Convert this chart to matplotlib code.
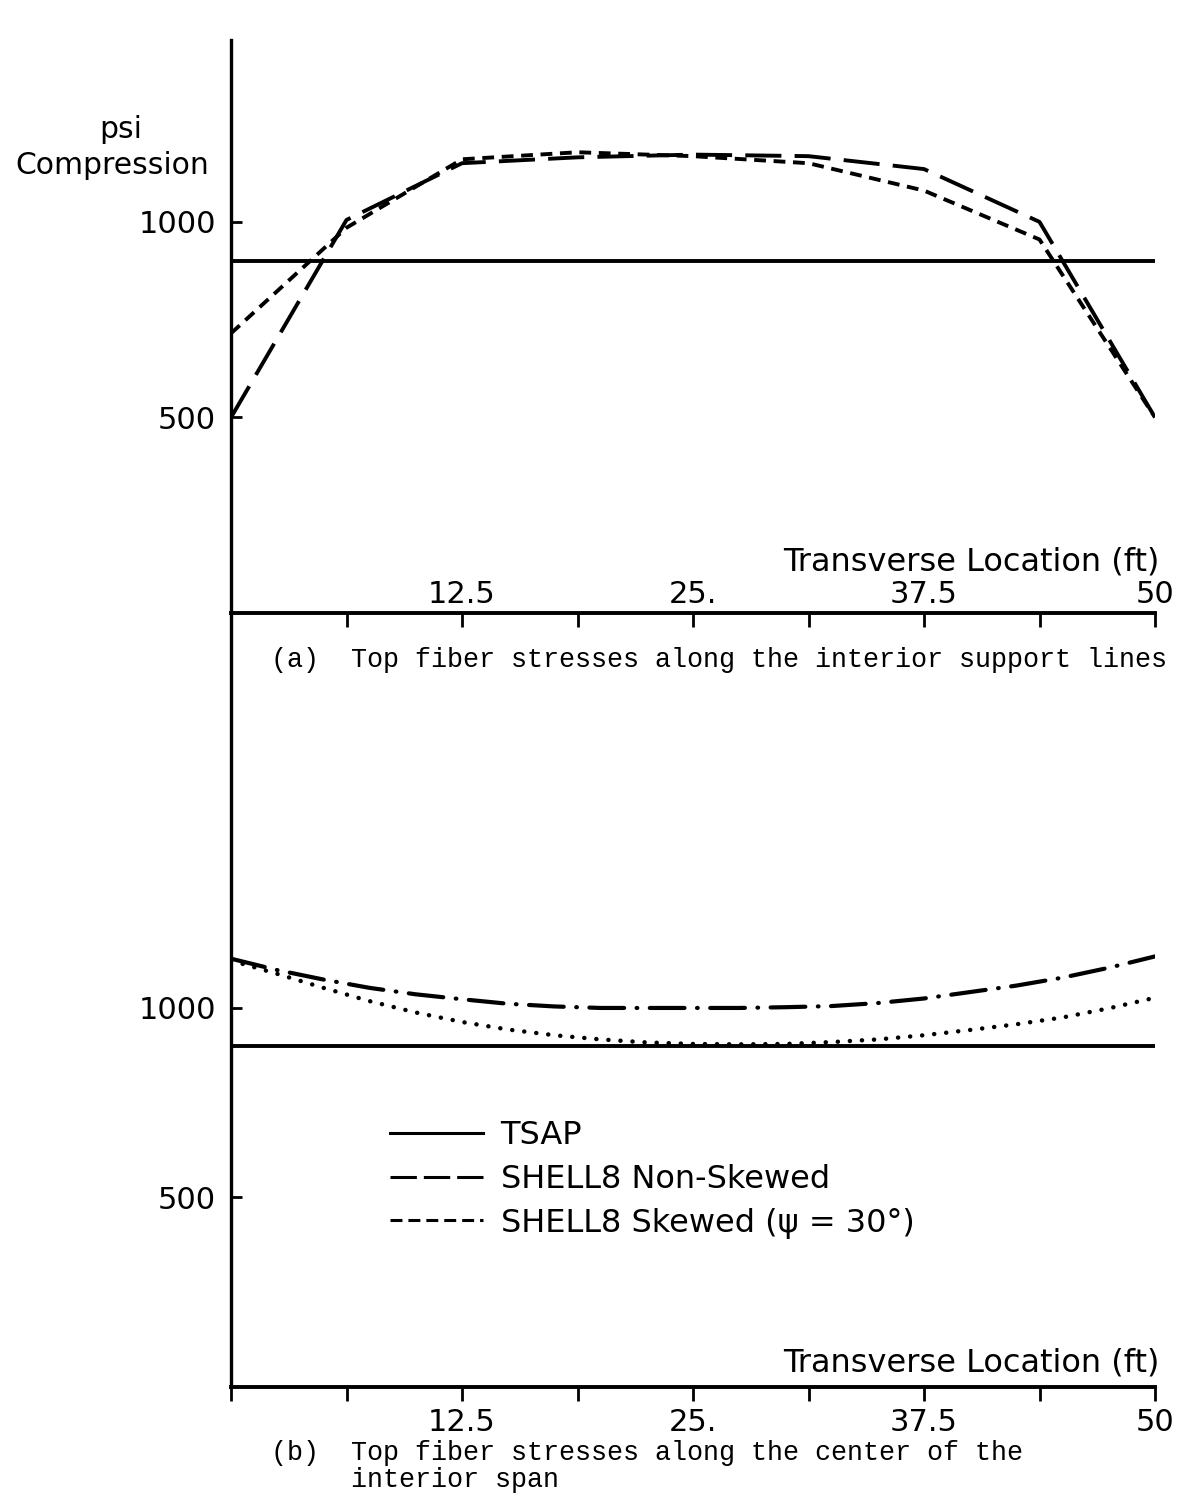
import matplotlib
matplotlib.use('Agg')
import matplotlib.pyplot as plt
from matplotlib.lines import Line2D

plt.rcParams['font.family'] = 'DejaVu Sans'
plt.rcParams['lines.scale_dashes'] = False

# transverse locations (ft)
x_top = [0, 6.25, 12.5, 18.75, 25, 31.25, 37.5, 43.75, 50]
tsap_top = [900, 900, 900, 900, 900, 900, 900, 900, 900]
nonskew_top = [500, 1005, 1150, 1165, 1172, 1168, 1135, 1000, 500]
skew_top = [715, 985, 1160, 1178, 1168, 1150, 1080, 955, 500]

x_bot = [0, 2.5, 5, 7.5, 10, 12.5, 15, 17.5, 20, 22.5, 25,
         27.5, 30, 32.5, 35, 37.5, 40, 42.5, 45, 47.5, 50]
tsap_bot = [900, 900, 900, 900, 900, 900, 900, 900, 900, 900, 900,
            900, 900, 900, 900, 900, 900, 900, 900, 900, 900]
nonskew_bot = [1130, 1100, 1075, 1053, 1036, 1023, 1011, 1004, 1000, 1000, 1000,
               1000, 1002, 1005, 1013, 1025, 1042, 1059, 1080, 1106, 1136]
skew_bot = [1125, 1090, 1053, 1018, 988, 963, 943, 928, 917, 909, 905,
            904, 905, 910, 917, 928, 942, 957, 975, 999, 1027]

xticks = [0, 6.25, 12.5, 18.75, 25, 31.25, 37.5, 43.75, 50]
xticklabels = ['', '', '12.5', '', '25.', '', '37.5', '', '50']
yticks = [500, 1000]
legend_labels = ['TSAP', 'SHELL8 Non-Skewed', 'SHELL8 Skewed (\u03c8 = 30\u00b0)']

W, H = 1180, 1509
fig = plt.figure(figsize=(W / 100, H / 100), dpi=100)


def box(x0, y0, x1, y1):
    return [x0 / W, 1 - y1 / H, (x1 - x0) / W, (y1 - y0) / H]


ax1 = fig.add_axes(box(231, 40, 1155, 613))
ax2 = fig.add_axes(box(231, 613, 1155, 1387))

for ax in (ax1, ax2):
    ax.spines['top'].set_visible(False)
    ax.spines['right'].set_visible(False)
    ax.spines['left'].set_linewidth(2.4)
    ax.spines['bottom'].set_linewidth(2.8)
    ax.set_xlim(0, 50)
    ax.set_xticks(xticks, xticklabels)
    ax.set_yticks(yticks)
    ax.tick_params(axis='y', direction='in', length=8, width=2, labelsize=22, pad=11)
    ax.patch.set_visible(False)

ax1.set_ylim(0, 1465)
ax2.set_ylim(0, 2042)

ax1.tick_params(axis='x', direction='out', length=10, width=2, labelsize=22, pad=-33.5)
ax2.tick_params(axis='x', direction='out', length=10, width=2, labelsize=22, pad=5)

# (a) interior support lines
ax1.plot(x_top, tsap_top, color='black', lw=2.8)
ax1.plot(x_top, nonskew_top, color='black', lw=2.8, dashes=(26, 9.5))
ax1.plot(x_top, skew_top, color='black', lw=2.8, dashes=(8.5, 5.5))

# (b) center of interior span
ax2.plot(x_bot, tsap_bot, color='black', lw=2.8)
ax2.plot(x_bot, nonskew_bot, color='black', lw=3, dashes=(25, 9, 0.5, 9),
         dash_capstyle='round')
ax2.plot(x_bot, skew_bot, color='black', lw=3.2, dashes=(0.1, 8.6),
         dash_capstyle='round')

for ax, dy in ((ax1, 36.7), (ax2, 17.3)):
    ax.annotate('Transverse Location (ft)', xy=(1, 0), xycoords='axes fraction',
                xytext=(3, dy), textcoords='offset points', ha='right', va='center',
                fontsize=23)

fig.text(121 / W, 1 - 130 / H, 'psi', ha='center', va='center', fontsize=21.5)
fig.text(112 / W, 1 - 166 / H, 'Compression', ha='center', va='center', fontsize=21.5)

handles = [
    Line2D([], [], color='black', lw=2.2),
    Line2D([], [], color='black', lw=2.2, dashes=(19, 5)),
    Line2D([], [], color='black', lw=2.2, dashes=(8.6, 4.3)),
]
ax2.legend(handles, legend_labels, loc='upper left', frameon=False,
           bbox_to_anchor=(390 / W, 1 - 1120 / H), bbox_transform=fig.transFigure,
           borderpad=0, borderaxespad=0, handlelength=2.9, handletextpad=0.56,
           labelspacing=0.4, fontsize=23)

mono = dict(family='Liberation Mono', fontsize=19.3, va='center', ha='left')
fig.text(271 / W, 1 - 660 / H,
         '(a)  Top fiber stresses along the interior support lines', **mono)
fig.text(271 / W, 1 - 1453 / H,
         '(b)  Top fiber stresses along the center of the', **mono)
fig.text(351 / W, 1 - 1480 / H, 'interior span', **mono)

fig.savefig('out.png', dpi=100)
